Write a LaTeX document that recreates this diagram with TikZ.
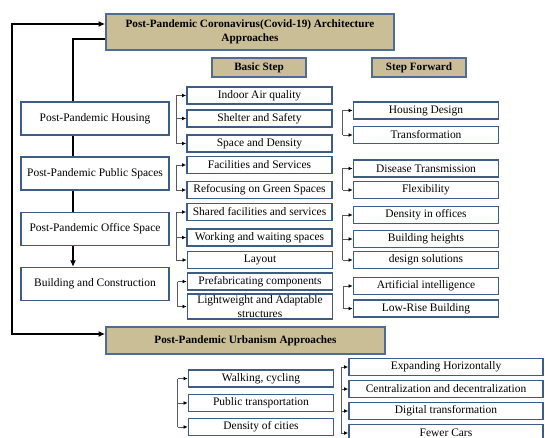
\documentclass[tikz,border=0pt]{standalone}
\usepackage{fontspec}
\setmainfont{Liberation Serif}
\usetikzlibrary{calc, arrows.meta, positioning}
\definecolor{headfill}{RGB}{201,190,150}
\definecolor{headline}{RGB}{78,108,148}
\definecolor{boxline}{RGB}{62,92,132}

\begin{document}
\begin{tikzpicture}[x=0.75pt, y=-0.75pt, font=\fontsize{8.6}{10.3}\selectfont]

% Define block styles
\tikzstyle{head} = [rectangle, draw=headline, fill=headfill, line width=1.2pt,
  font=\fontsize{8.4}{10.2}\selectfont\bfseries, align=center, inner sep=1pt]
\tikzstyle{group} = [rectangle, draw=boxline, fill=white, line width=1.1pt,
  minimum width=111pt, minimum height=24.5pt, text centered]
\tikzstyle{item} = [rectangle, draw=boxline, fill=white, line width=1.1pt,
  minimum width=108.75pt, minimum height=12.5pt, inner sep=1pt, align=center]
\tikzstyle{wideitem} = [item, minimum width=145.5pt]
\tikzstyle{spine} = [draw, line width=1.7pt, -{Latex[length=5pt,width=4.5pt]}]
\tikzstyle{brace} = [draw, black!65, line width=0.6pt]
\tikzstyle{tip} = [draw, black!65, line width=0.6pt, -{Latex[length=3.2pt,width=2.8pt,black]}]

\useasboundingbox (0,0) rectangle (545,438);
\clip (0,0) rectangle (545,438);

% Headings
\node [head, minimum width=216pt, minimum height=27pt] (title) at (250,32)
  {Post-Pandemic Coronavirus(Covid-19) Architecture\\Approaches};
\node [head, minimum width=70.5pt, minimum height=14.25pt] (basic) at (259,67.5) {Basic Step};
\node [head, minimum width=70.5pt, minimum height=14.25pt] (forward) at (419,67.5) {Step Forward};
\node [head, minimum width=209.25pt, minimum height=20.25pt] (urban) at (245.5,340.5)
  {Post-Pandemic Urbanism Approaches};

% Architecture groups
\node [group] (housing) at (95,118.5) {Post-Pandemic Housing};
\node [group] (public) at (95,173.5) {Post-Pandemic Public Spaces};
\node [group] (office) at (95,229) {Post-Pandemic Office Space};
\node [group] (building) at (95,284) {Building and Construction};

% Basic steps
\node [item] (indoor) at (259.5,95.5) {Indoor Air quality};
\node [item] (shelter) at (259.5,118.5) {Shelter and Safety};
\node [item] (space) at (259.5,143.5) {Space and Density};
\node [item] (facilities) at (259.5,165) {Facilities and Services};
\node [item] (green) at (259.5,190) {Refocusing on Green Spaces};
\node [item] (shared) at (259.5,212) {Shared facilities and services};
\node [item] (working) at (259.5,237.5) {Working and waiting spaces};
\node [item] (layout) at (260,260) {Layout};
\node [item] (prefab) at (260,281.5) {Prefabricating components};
\node [item, minimum height=18.5pt] (light) at (260,306.5) {Lightweight and Adaptable\\structures};

% Steps forward
\node [item] (hdesign) at (426,110.5) {Housing Design};
\node [item] (transf) at (426,135) {Transformation};
\node [item] (disease) at (426,168.5) {Disease Transmission};
\node [item] (flex) at (426,190) {Flexibility};
\node [item] (dens) at (426,215) {Density in offices};
\node [item] (heights) at (426,239) {Building heights};
\node [item] (dsol) at (426,260) {design solutions};
\node [item] (ai) at (426,286) {Artificial intelligence};
\node [item] (lowrise) at (426,308.5) {Low-Rise Building};

% Urbanism
\node [item] (walk) at (261,378.5) {Walking, cycling};
\node [item] (transp) at (261,403) {Public transportation};
\node [item] (dcities) at (261,427) {Density of cities};
\node [wideitem] (expand) at (446,367) {Expanding Horizontally};
\node [wideitem] (central) at (446,389) {Centralization and decentralization};
\node [wideitem] (digital) at (446,411) {Digital transformation};
\node [wideitem] (fewer) at (446,433) {Fewer Cars};

% Paths
\coordinate (rail) at (12,180);
\coordinate (trunk) at (73,0);
\path [spine, {Latex[length=5pt,width=4.5pt]}-{Latex[length=5pt,width=4.5pt]}]
  ($(title.west)+(0,-8)$) -| (rail) |- ($(urban.west)+(0,-6.5)$);
\path [spine, -] (housing.north -| trunk) |- ($(title.west)+(0,7)$);
\path [spine, -] (housing.south -| trunk) -- (public.north -| trunk);
\path [spine, -] (public.south -| trunk) -- (office.north -| trunk);
\path [spine] (office.south -| trunk) -- (building.north -| trunk);

\foreach \first/\last/\all/\gap in {indoor/space/{indoor,shelter,space}/10,
    facilities/green/{facilities,green}/10, shared/layout/{shared,working,layout}/10,
    prefab/light/{prefab,light}/9, hdesign/transf/{hdesign,transf}/10,
    disease/flex/{disease,flex}/10, dens/dsol/{dens,heights,dsol}/10,
    ai/lowrise/{ai,lowrise}/9, walk/dcities/{walk,transp,dcities}/10,
    expand/fewer/{expand,central,digital,fewer}/7} {
  \coordinate (b) at ($(\first.west)+(-\gap,0)$);
  \path [brace] (b) -- (b |- \last.west);
  \foreach \n in \all
    \path [tip] (b |- \n.west) -- (\n.west);
}
\end{tikzpicture}
\end{document}
